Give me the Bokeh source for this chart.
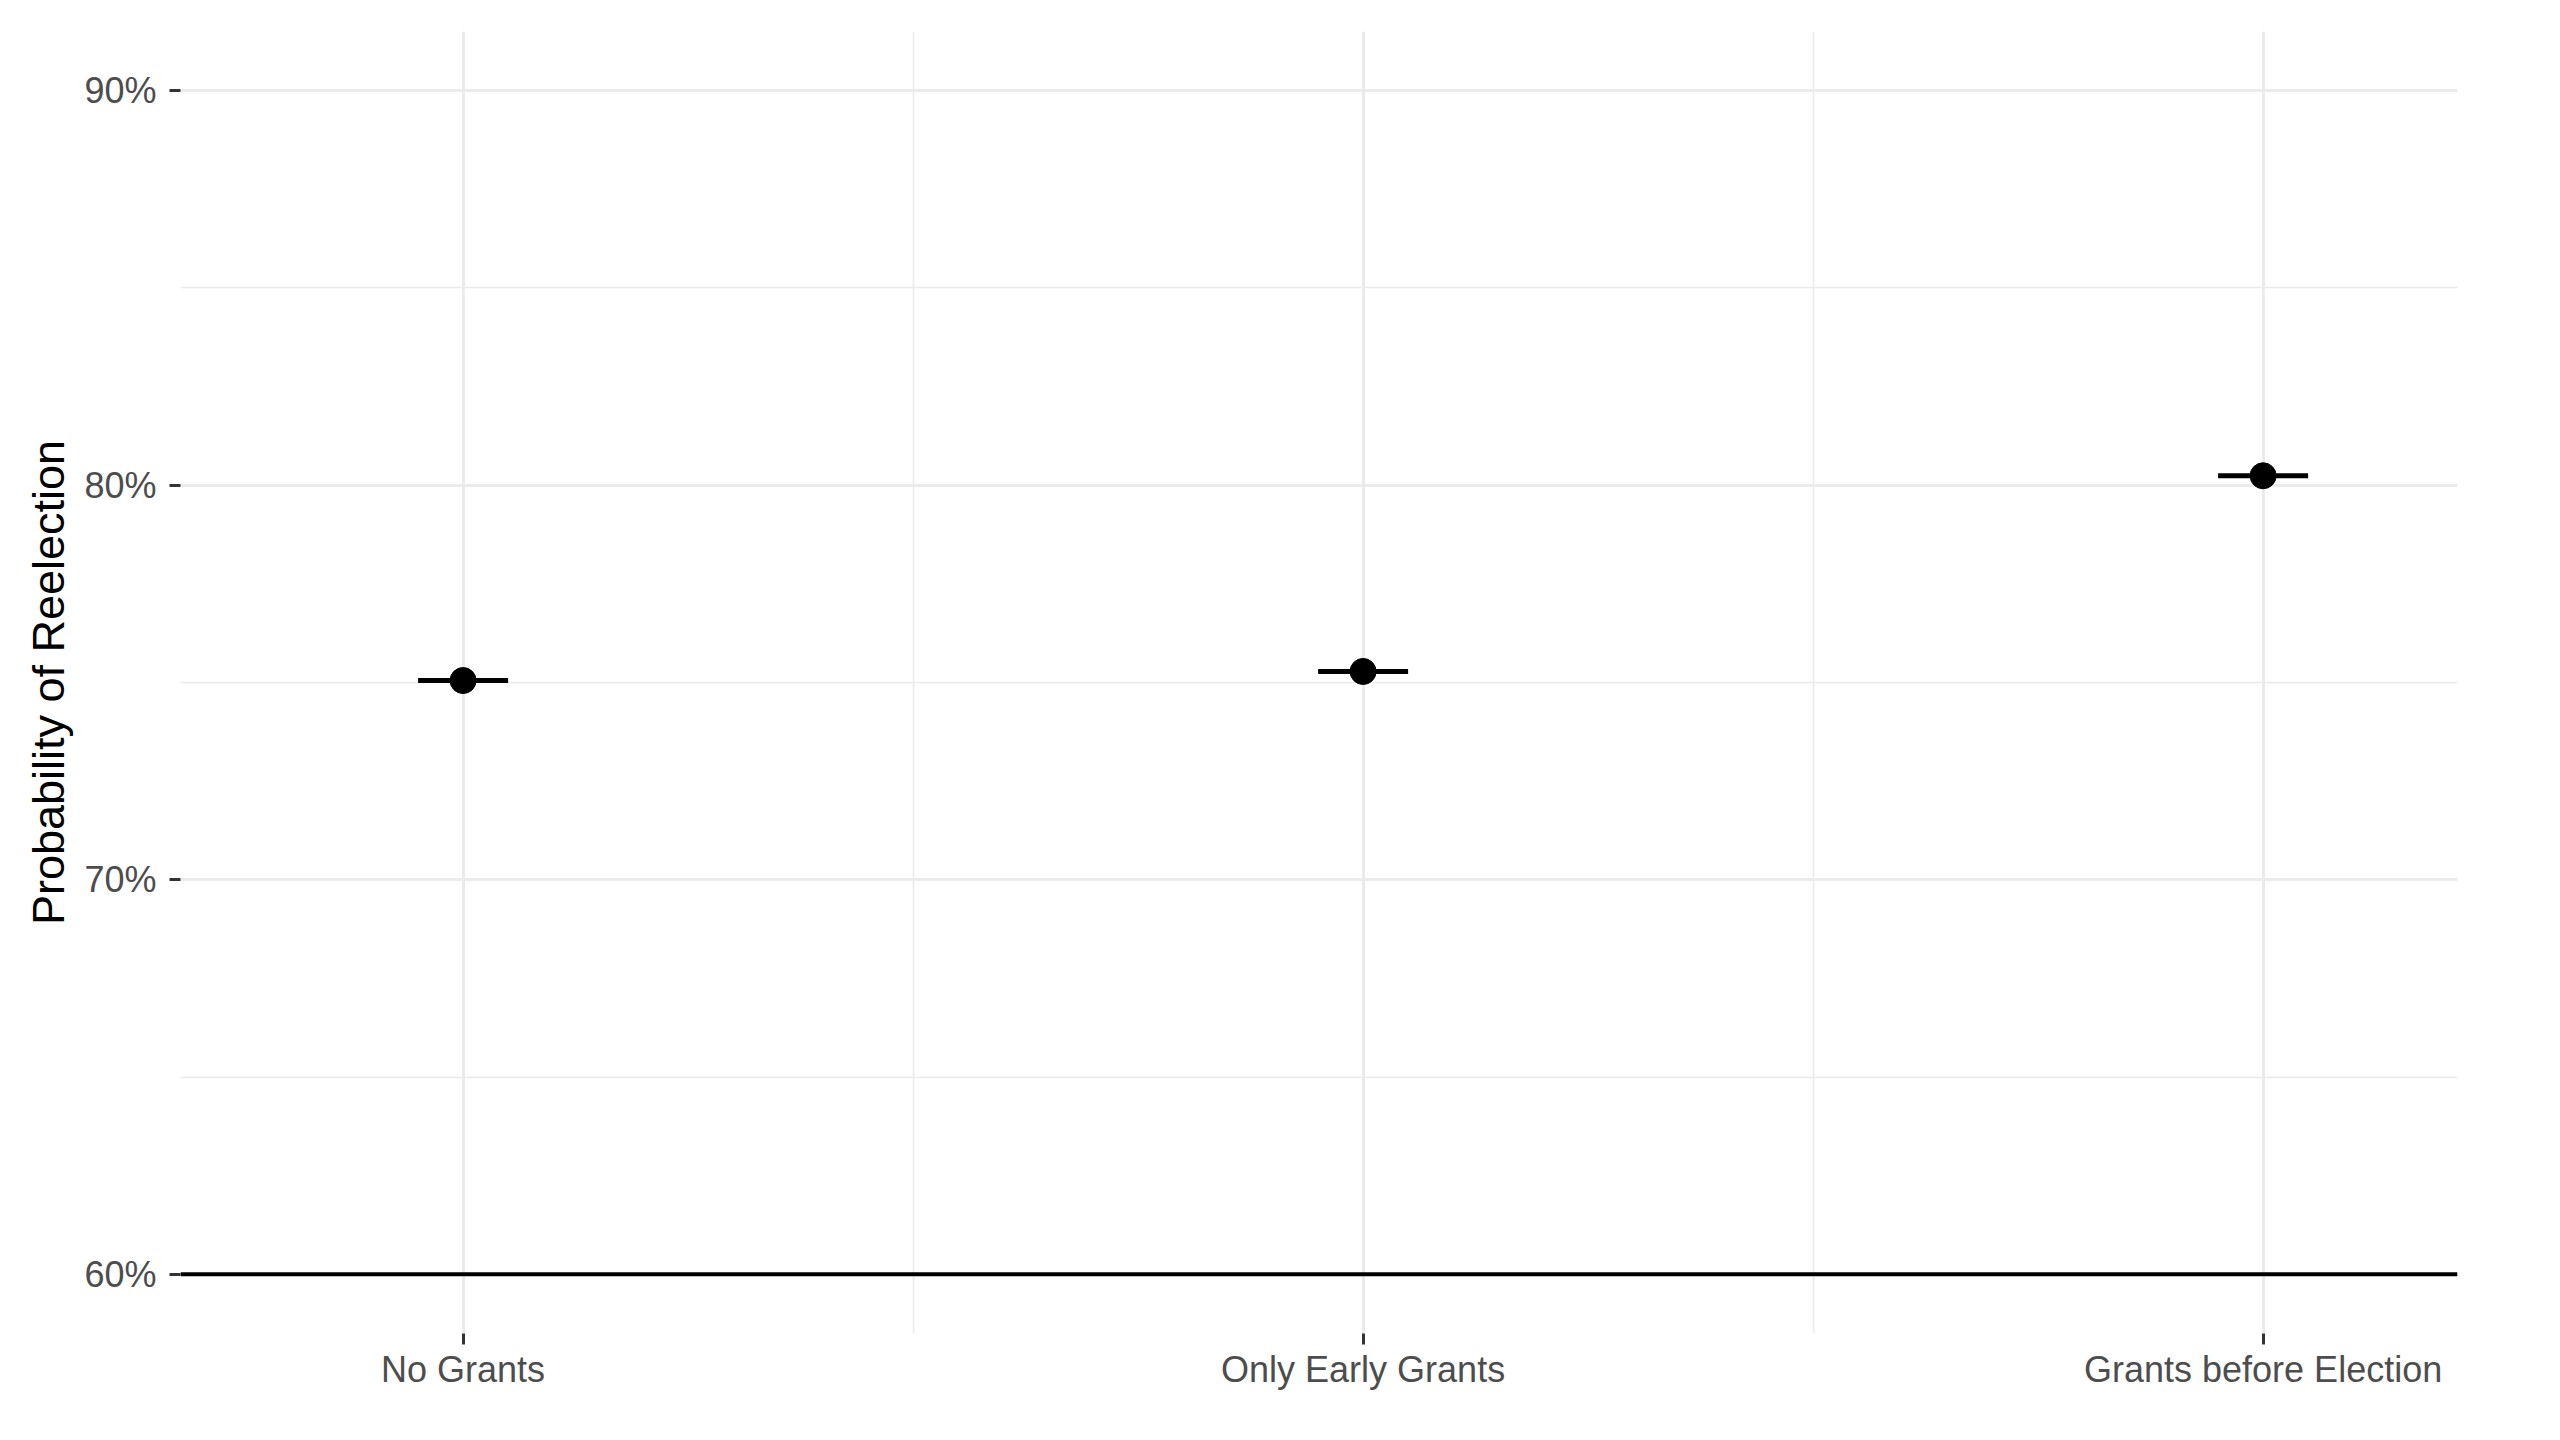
from bokeh.plotting import figure
from bokeh.models import Range1d, FixedTicker, NumeralTickFormatter, Span, ColumnDataSource
from bokeh.embed import file_html
from bokeh.resources import INLINE

# Predicted probability of reelection by grant timing
categories = ["No Grants", "Only Early Grants", "Grants before Election"]
prob = [0.7505, 0.7528, 0.8024]
y_ticks = [0.6, 0.7, 0.8, 0.9]
y_minor = [0.65, 0.75, 0.85]

xpos = list(range(1, len(categories) + 1))
half_w = 0.05
src = ColumnDataSource(dict(
    x=xpos,
    y=prob,
    x0=[x - half_w for x in xpos],
    x1=[x + half_w for x in xpos],
))

p = figure(
    width=2560, height=1440,
    output_backend="svg", toolbar_location=None,
    x_range=Range1d(0.686, 3.216), y_range=Range1d(0.585, 0.915),
    min_border_left=180, min_border_right=103,
    min_border_top=31, min_border_bottom=107,
)
p.outline_line_color = None
p.background_fill_color = "white"
p.border_fill_color = "white"

GRID = "#EBEBEB"
FONT = "Liberation Sans"

# x axis: categories at 1..3, minor grid between them
p.xaxis.ticker = FixedTicker(ticks=xpos, minor_ticks=[1.5, 2.5])
p.xaxis.major_label_overrides = {x: c for x, c in zip(xpos, categories)}
p.xgrid.grid_line_color = GRID
p.xgrid.grid_line_width = 3
p.xgrid.minor_grid_line_color = GRID
p.xgrid.minor_grid_line_width = 1.6

# y axis: percent scale
p.yaxis.ticker = FixedTicker(ticks=y_ticks, minor_ticks=y_minor)
p.yaxis.formatter = NumeralTickFormatter(format="0%")
p.ygrid.grid_line_color = GRID
p.ygrid.grid_line_width = 3
p.ygrid.minor_grid_line_color = GRID
p.ygrid.minor_grid_line_width = 1.6
p.yaxis.axis_label = "Probability of Reelection"

for ax in (p.xaxis, p.yaxis):
    ax.axis_line_color = None
    ax.major_tick_line_color = "#333333"
    ax.major_tick_line_width = 3
    ax.major_tick_out = 11
    ax.major_tick_in = 0
    ax.minor_tick_out = 0
    ax.minor_tick_in = 0
    ax.major_label_text_font = FONT
    ax.major_label_text_font_size = "36px"
    ax.major_label_text_color = "#4D4D4D"
    ax.axis_label_text_font = FONT
    ax.axis_label_text_font_size = "45px"
    ax.axis_label_text_font_style = "normal"
    ax.axis_label_text_color = "black"

p.xaxis.major_label_standoff = 4
p.yaxis.major_label_standoff = 13
p.yaxis.axis_label_standoff = 7

# reference line at the bottom of the scale
p.add_layout(Span(location=0.6, dimension="width", line_color="black", line_width=4))

p.segment(x0="x0", y0="y", x1="x1", y1="y", source=src, line_color="black", line_width=5)
p.scatter(x="x", y="y", source=src, size=26, fill_color="black", line_color="black")

open("out.html", "w").write(file_html(p, INLINE))
